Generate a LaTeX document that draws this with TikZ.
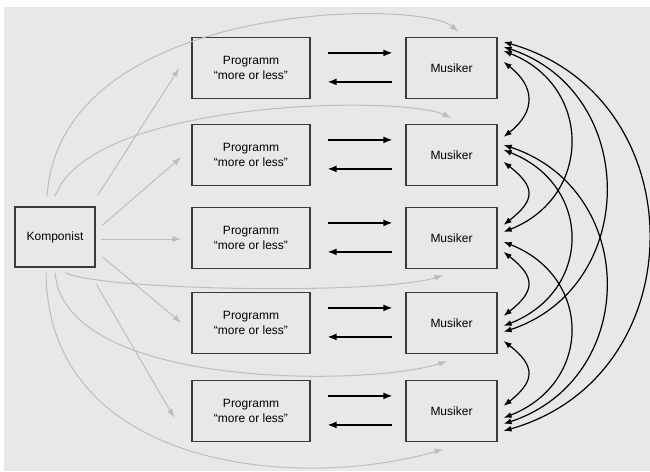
\documentclass[tikz,border=0pt]{standalone}
\usepackage{fontspec}
\setmainfont{Liberation Sans}
\usetikzlibrary{arrows.meta,calc}
\definecolor{bggray}{HTML}{E8E8E8}
\definecolor{linegray}{HTML}{BDBDBD}
\definecolor{boxline}{HTML}{3A3A3A}
\begin{document}
\begin{tikzpicture}[x=1pt,y=-1pt,font=\fontsize{12}{15}\selectfont]
    \tikzstyle{box}=[draw=boxline,line width=1.2pt,align=center,inner sep=0pt]
    \tikzstyle{programm}=[box,minimum width=118pt,minimum height=61pt]
    \tikzstyle{musiker}=[box,minimum width=91pt,minimum height=61pt]
    \tikzstyle{komponist}=[box,minimum width=80pt,minimum height=60pt]
    \tikzstyle{feed}=[linegray,line width=1pt,-{Latex[length=9pt,width=6pt]}]
    \tikzstyle{talk}=[black,line width=1.5pt,-{Latex[length=9pt,width=7pt]}]
    \tikzstyle{play}=[black,line width=1.2pt,{Latex[length=8pt,width=6pt]}-{Latex[length=8pt,width=6pt]}]

    \useasboundingbox (0,0) rectangle (650,471);
    \fill[bggray] (4,7) rectangle (650,471);

    % Draw the composer
    \node[komponist] (K) at (55,237) {Komponist};

    % Draw the programs and the musicians, one row each
    \foreach \name / \y in {1/68,2/155,3/238,4/323,5/411} {
      \node[programm] (P-\name) at (251,\y) {Programm\\“more or less”};
      \node[musiker] (M-\name) at (451.5,\y) {Musiker};
    }

    % Program and musician talk to each other
    \foreach \i in {1,...,5} {
      \draw[talk] ($(P-\i.north east)+(17,16)$) -- ($(M-\i.north west)+(-13,16)$);
      \draw[talk] ($(M-\i.north west)+(-13,45)$) -- ($(P-\i.north east)+(17,45)$);
    }

    % Composer to every program
    \draw[feed] ($(K.north east)+(2,-11)$) -- ($(P-1.west)+(-12,0)$);
    \draw[feed] ($(K.east)+(7,-12)$) -- ($(P-2.west)+(-10,2)$);
    \draw[feed] ($(K.east)+(5,2)$) -- ($(P-3.west)+(-10,1)$);
    \draw[feed] ($(K.east)+(7,20)$) -- ($(P-4.west)+(-10,0)$);
    \draw[feed] ($(K.south east)+(1,17)$) -- ($(P-5.west)+(-17,7)$);

    % Composer to every musician
    \draw[feed] ($(K.north)+(-8,-10)$) .. controls +(13,-197) and +(-38,-33) .. ($(M-1.north)+(7,-5)$);
    \draw[feed] ($(K.north)+(0,-10)$) .. controls +(35,-97) and +(-52,-23) .. ($(M-2.north)+(0,-6)$);
    \draw[feed] ($(K.south)+(10,5)$) .. controls +(35,18) and +(-63,20) .. ($(M-3.south)+(-8,6)$);
    \draw[feed] ($(K.south)+(0,5)$) .. controls +(10,118) and +(-77,25) .. ($(M-4.south)+(-4,7)$);
    \draw[feed] ($(K.south)+(-9,5)$) .. controls +(2,198) and +(-143,42) .. ($(M-5.south)+(-8,7)$);

    % Connect every musician with every other musician
    \foreach \a/\ya/\b/\yb/\d/\s in {1/25/2/13/32/25, 2/38/3/18/32/25, 3/45/4/24/32/25, 4/49/5/26/32/25,
                                     1/14/3/25/89/35, 2/26/4/34/89/35, 3/35/5/38/89/35,
                                     1/10/4/40/136/45, 2/21/5/44/136/45,
                                     1/5/5/51/193/55}
      \draw[play] ($(M-\a.north east)+(6,\ya)$) .. controls +(\d,\s) and +(\d,-\s) .. ($(M-\b.north east)+(6,\yb)$);
\end{tikzpicture}
\end{document}
